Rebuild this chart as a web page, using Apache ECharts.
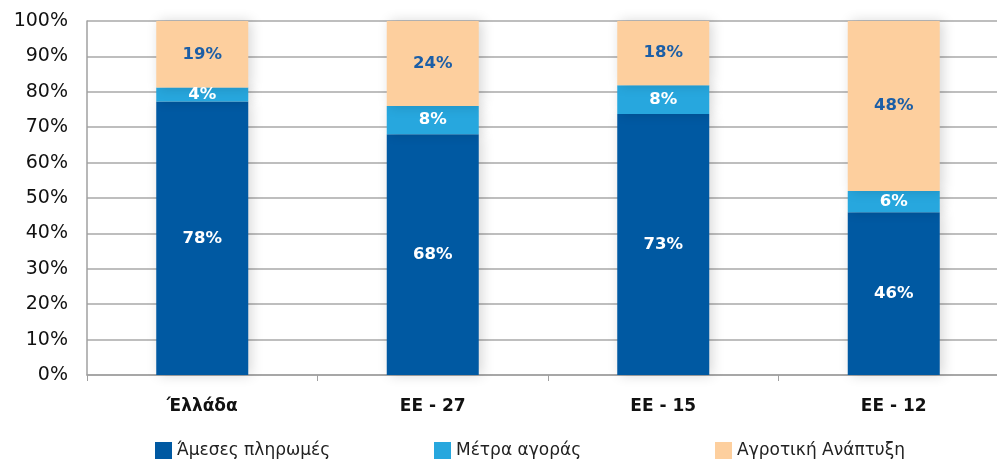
<!DOCTYPE html>
<html><head><meta charset="utf-8">
<script src="https://cdn.jsdelivr.net/npm/echarts@6/dist/echarts.min.js"></script>
<style>html,body{margin:0;padding:0;background:#fff;overflow:hidden;width:997px;height:461px}#c{width:1009px;height:461px}</style>
</head><body><div id="c"></div>
<script>
const categories = ['Έλλάδα', 'ΕΕ - 27', 'ΕΕ - 15', 'ΕΕ - 12'];
const seriesNames = ['Άμεσες πληρωμές', 'Μέτρα αγοράς', 'Αγροτική Ανάπτυξη'];
const directPayments = [78, 68, 73, 46];
const marketMeasures = [4, 8, 8, 6];
const ruralDevelopment = [19, 24, 18, 48];
const yTicks = [0, 10, 20, 30, 40, 50, 60, 70, 80, 90, 100];

const raw = [directPayments, marketMeasures, ruralDevelopment];
const totals = categories.map((_, i) => raw.reduce((s, a) => s + a[i], 0));
const colors = ['#0059A2', '#27A7DE', '#FDCF9E'];
const labelColors = ['#ffffff', '#ffffff', '#1B5EA6'];
const font = 'DejaVu Sans';

const series = raw.map((arr, k) => ({
  name: seriesNames[k],
  type: 'bar',
  stack: 'all',
  barWidth: 92,
  data: arr.map((v, i) => ({ value: v / totals[i] * 100, raw: v })),
  itemStyle: { color: colors[k], shadowBlur: 12, shadowColor: 'rgba(0,0,0,0.16)', shadowOffsetX: 3 },
  label: {
    show: true, position: 'inside', color: labelColors[k],
    fontFamily: font, fontWeight: 'bold', fontSize: 16.5,
    formatter: p => arr[p.dataIndex] + '%'
  }
}));

const legendBase = {
  bottom: -3, itemWidth: 17, itemHeight: 17, itemGap: 10,
  textStyle: { fontFamily: font, fontSize: 17, color: '#222' }, icon: 'rect'
};

const chart = echarts.init(document.getElementById('c'), null, { renderer: 'canvas' });
chart.setOption({
  animation: false,
  grid: { left: 87, top: 21, right: 0, bottom: 86, containLabel: false },
  legend: [
    Object.assign({}, legendBase, { left: 150, data: [seriesNames[0]] }),
    Object.assign({}, legendBase, { left: 429, data: [seriesNames[1]] }),
    Object.assign({}, legendBase, { left: 710, data: [seriesNames[2]] })
  ],
  xAxis: {
    type: 'category', data: categories,
    axisLine: { lineStyle: { color: '#A0A0A0', width: 1.5 } },
    axisTick: { show: true, length: 6, lineStyle: { color: '#A0A0A0' } },
    axisLabel: { fontFamily: font, fontSize: 17, fontWeight: 'bold', color: '#111', margin: 23 }
  },
  yAxis: {
    type: 'value', min: 0, max: 100, interval: 10,
    axisLine: { show: true, lineStyle: { color: '#A0A0A0', width: 1.5 } },
    splitLine: { lineStyle: { color: '#A8A8A8', width: 1.5 } },
    axisLabel: { fontFamily: font, fontSize: 19, color: '#111', margin: 19,
      formatter: v => yTicks.includes(v) ? v + '%' : '' }
  },
  series: series
});
</script></body></html>
